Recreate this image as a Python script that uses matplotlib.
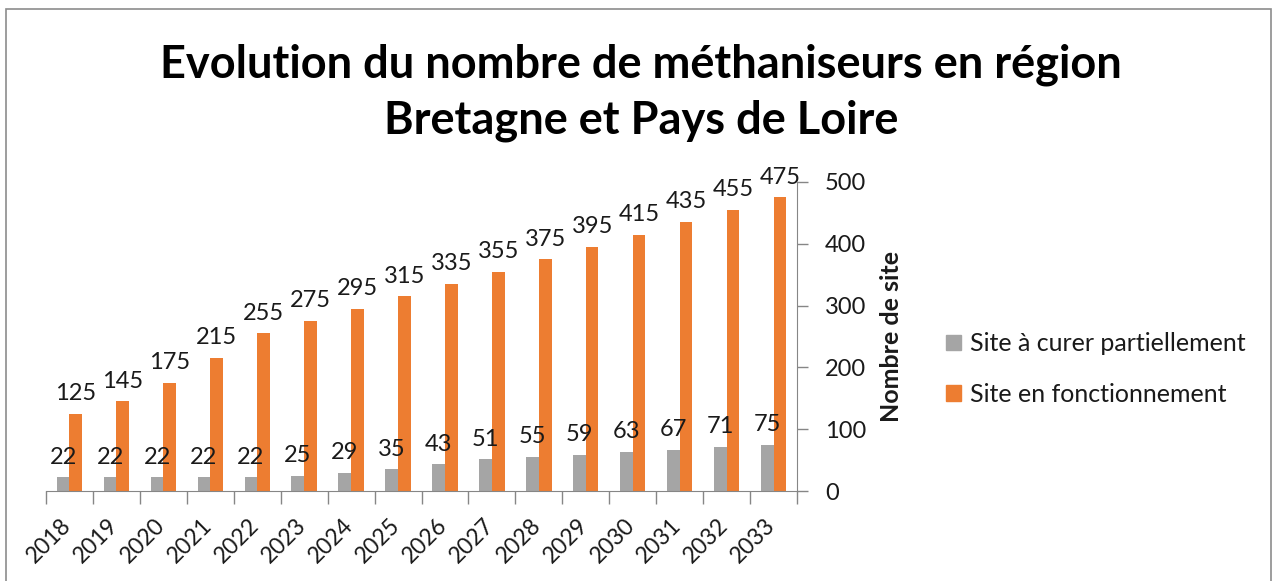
import matplotlib
matplotlib.use("Agg")
import matplotlib.pyplot as plt
import matplotlib.transforms as mtransforms
import numpy as np
from matplotlib.patches import Rectangle, Patch

years = ["2018", "2019", "2020", "2021", "2022", "2023", "2024", "2025",
         "2026", "2027", "2028", "2029", "2030", "2031", "2032", "2033"]
partiel = [22, 22, 22, 22, 22, 25, 29, 35, 43, 51, 55, 59, 63, 67, 71, 75]
fonction = [125, 145, 175, 215, 255, 275, 295, 315, 335, 355, 375, 395, 415, 435, 455, 475]
series_names = ["Site à curer partiellement", "Site en fonctionnement"]
title = "Evolution du nombre de méthaniseurs en région\nBretagne et Pays de Loire"
ylabel = "Nombre de site"

GREY = "#A5A5A5"
ORANGE = "#ED7D31"
AXC = "#868686"

plt.rcParams['font.family'] = ['Lato', 'DejaVu Sans']

W, H = 1276, 581
fig = plt.figure(figsize=(W / 100, H / 100), dpi=100)

# frame
fig.patches.append(Rectangle((6 / W, -0.05), (1271 - 6) / W, 1.05 - 9 / H,
                             transform=fig.transFigure, fill=False,
                             edgecolor="#8C8C8C", lw=1.2))

ax = fig.add_axes([46 / W, 1 - 491 / H, (797 - 46) / W, (491 - 182) / H])
x = np.arange(len(years))
bw = 0.27
ax.bar(x - bw / 2, partiel, bw, color=GREY, label=series_names[0])
ax.bar(x + bw / 2, fonction, bw, color=ORANGE, label=series_names[1])

for xi, v in zip(x, partiel):
    ax.annotate(str(v), (xi - bw / 2, v), xytext=(0, 7), textcoords="offset points",
                ha="center", va="bottom", fontsize=17, color="#1a1a1a")
for xi, v in zip(x, fonction):
    ax.annotate(str(v), (xi + bw / 2, v), xytext=(0, 7), textcoords="offset points",
                ha="center", va="bottom", fontsize=17, color="#1a1a1a", clip_on=False)

ax.set_xlim(-0.5, len(years) - 0.5)
ax.set_ylim(0, 500)
ax.set_yticks(range(0, 501, 100))
ax.yaxis.tick_right()
ax.yaxis.set_label_position("right")
ax.tick_params(axis="y", direction="out", length=8, width=1, color=AXC,
               labelsize=17, labelcolor="#1a1a1a", pad=12)
ax.set_xticks(np.arange(-0.5, len(years), 1), minor=False)
ax.set_xticklabels([])
ax.set_xticks(x, minor=True)
ax.set_xticklabels(years, minor=True, rotation=45, ha="right",
                   rotation_mode="anchor", fontsize=16.5, color="#1a1a1a")
ax.tick_params(axis="x", which="major", direction="out", length=9, width=1, color=AXC)
ax.tick_params(axis="x", which="minor", length=0, pad=17)
shift = mtransforms.ScaledTranslation(-9 / 100, 0, fig.dpi_scale_trans)
for lbl in ax.get_xticklabels(minor=True):
    lbl.set_transform(lbl.get_transform() + shift)
for s in ["top", "left"]:
    ax.spines[s].set_visible(False)
ax.spines["bottom"].set_color(AXC)
ax.spines["right"].set_color(AXC)
ax.set_ylabel(ylabel, fontsize=18, fontweight="bold", labelpad=10, color="#1a1a1a")

fig.text(641 / W, 1 - 93 / H, title, ha="center", va="center", fontsize=32.5,
         fontweight="bold", linespacing=1.4, color="black")

handles = [Patch(color=GREY), Patch(color=ORANGE)]
fig.legend(handles, series_names, loc="center left", bbox_to_anchor=(923 / W, 1 - 369 / H),
           frameon=False, fontsize=18, handlelength=0.6, handleheight=0.6,
           handletextpad=0.4, labelspacing=1.1, labelcolor="#1a1a1a")

fig.savefig("out.png", dpi=100)
